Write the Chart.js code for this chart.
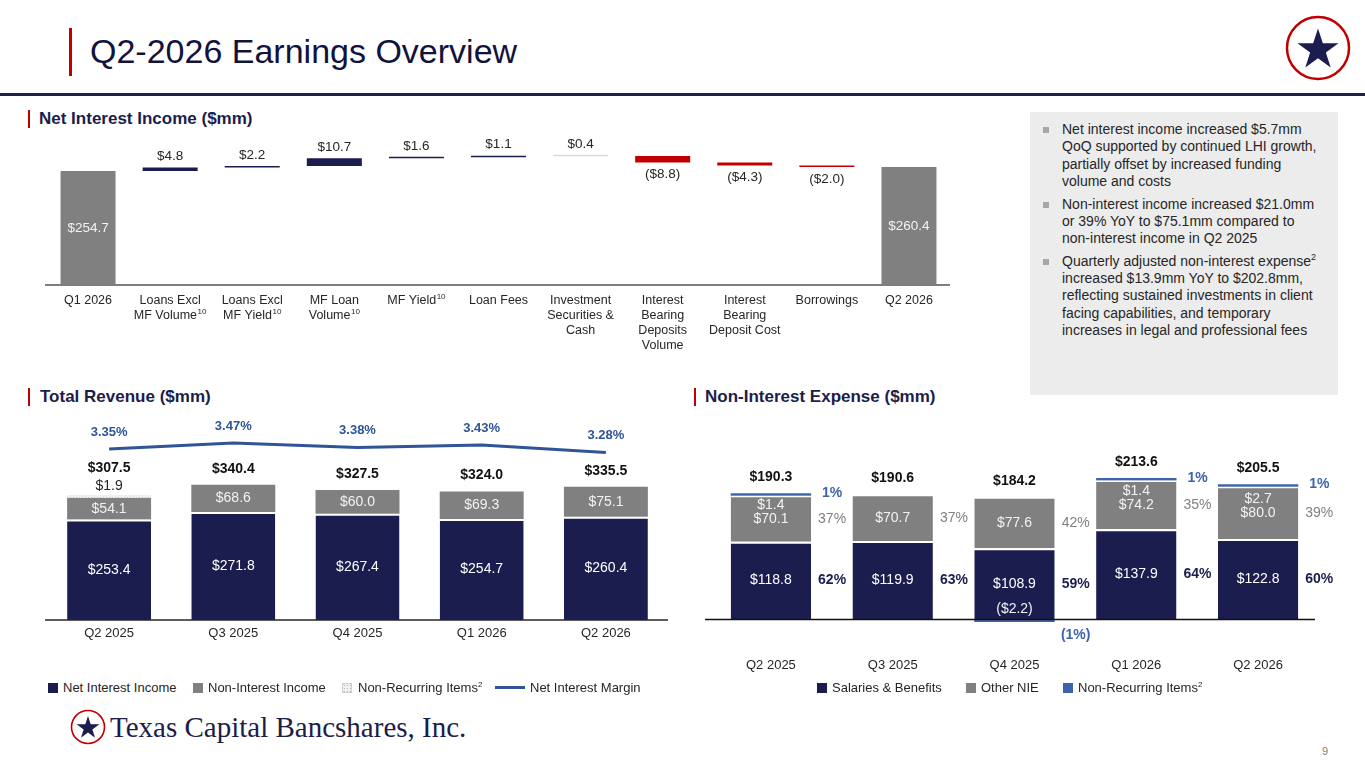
<!DOCTYPE html>
<html lang="en">
<head>
<meta charset="UTF-8">
<title>Q2-2026 Earnings Overview</title>
<script src="https://cdn.jsdelivr.net/npm/chart.js"></script>
<style>
    body { margin: 0; width: 1365px; height: 768px; position: relative; overflow: hidden; background: #fff;
           font-family: "Liberation Sans", Arial, sans-serif; color: #262626; }
    .abs { position: absolute; }
    #titlebar { left: 69px; top: 28px; width: 3px; height: 48px; background: #c00000; }
    #title { left: 90px; top: 29px; font-size: 34px; line-height: 44px; color: #12123d; white-space: nowrap; }
    #rule { left: 0; top: 93px; width: 1365px; height: 3px; background: #1f2050; }
    .sec { font-weight: bold; font-size: 17px; line-height: 20px; color: #1c1d4a; white-space: nowrap; }
    .secbar { width: 2px; height: 18px; background: #c00000; }
    #box { left: 1030px; top: 112px; width: 308px; height: 283px; background: #ececec; box-sizing: border-box; padding: 9px 0 0 32px; }
    #box p { margin: 0 0 5.4px 0; font-size: 14px; line-height: 17.3px; color: #262626; position: relative; white-space: nowrap; }
    #box p i { position: absolute; left: -19px; top: 6px; width: 6px; height: 6px; background: #a6a6a6; }
    #box sup { font-size: 9px; line-height: 0; }
    canvas { position: absolute; }
    .leg { font-size: 13px; line-height: 16px; color: #262626; white-space: nowrap; }
    .leg sup { font-size: 8px; line-height: 0; }
    .sw { position: absolute; width: 10px; height: 10px; }
    #footer { left: 110px; top: 709px; font-family: "Liberation Serif", "DejaVu Serif", serif; font-size: 29px; line-height: 36px;
              color: #1c1d4a; white-space: nowrap; }
    #pagenum { left: 1322px; top: 745px; font-size: 11px; color: #7f7f7f; }
</style>
</head>
<body>
<div id="titlebar" class="abs"></div>
<div id="title" class="abs">Q2-2026 Earnings Overview</div>
<div id="rule" class="abs"></div>
<svg class="abs" style="left:1283px;top:13px" width="70" height="70" viewBox="-35 -35 70 70">
    <circle cx="0" cy="0" r="31" fill="#fff" stroke="#c00000" stroke-width="2.5"/>
    <polygon transform="translate(0,2) scale(1.08)" fill="#1c1d4f"
             points="0,-20 4.49,-6.18 19.02,-6.18 7.27,2.36 11.76,16.18 0,7.64 -11.76,16.18 -7.27,2.36 -19.02,-6.18 -4.49,-6.18"/>
</svg>

<div class="abs secbar" style="left:28px;top:110px"></div>
<div class="abs sec" style="left:39px;top:109px">Net Interest Income ($mm)</div>
<div class="abs secbar" style="left:28px;top:388px"></div>
<div class="abs sec" style="left:40px;top:387px">Total Revenue ($mm)</div>
<div class="abs secbar" style="left:694px;top:388px"></div>
<div class="abs sec" style="left:705px;top:387px">Non-Interest Expense ($mm)</div>

<div id="box" class="abs">
    <p><i></i>Net interest income increased $5.7mm<br>QoQ supported by continued LHI growth,<br>partially offset by increased funding<br>volume and costs</p>
    <p><i></i>Non-interest income increased $21.0mm<br>or 39% YoY to $75.1mm compared to<br>non-interest income in Q2 2025</p>
    <p><i></i>Quarterly adjusted non-interest expense<sup>2</sup><br>increased $13.9mm YoY to $202.8mm,<br>reflecting sustained investments in client<br>facing capabilities, and temporary<br>increases in legal and professional fees</p>
</div>

<canvas id="wf" width="915" height="260" style="left:40px;top:100px"></canvas>
<canvas id="rev" width="635" height="250" style="left:40px;top:410px"></canvas>
<canvas id="nie" width="650" height="256" style="left:700px;top:430px"></canvas>

<!-- legends -->
<div class="abs leg" style="left:48px;top:680px"><span class="sw" style="left:0;top:3px;background:#1c1d4f"></span><span style="margin-left:15px">Net Interest Income</span></div>
<div class="abs leg" style="left:193px;top:680px"><span class="sw" style="left:0;top:3px;background:#808080"></span><span style="margin-left:15px">Non-Interest Income</span></div>
<div class="abs leg" style="left:342px;top:680px"><span class="sw" style="left:0;top:3px;box-sizing:border-box;border:1px dashed #c8c8c8;background:#f0f0f0 radial-gradient(#bdbdbd 0.7px, transparent 0.9px) 0 0/3px 3px"></span><span style="margin-left:16px">Non-Recurring Items<sup>2</sup></span></div>
<div class="abs leg" style="left:495px;top:680px"><span class="sw" style="left:0;top:6px;width:30px;height:3px;background:#2f5597"></span><span style="margin-left:35px">Net Interest Margin</span></div>

<div class="abs leg" style="left:817px;top:680px"><span class="sw" style="left:0;top:3px;background:#1c1d4f"></span><span style="margin-left:15px">Salaries &amp; Benefits</span></div>
<div class="abs leg" style="left:966px;top:680px"><span class="sw" style="left:0;top:3px;background:#808080"></span><span style="margin-left:15px">Other NIE</span></div>
<div class="abs leg" style="left:1063px;top:680px"><span class="sw" style="left:0;top:3px;background:#3b64ad"></span><span style="margin-left:15px">Non-Recurring Items<sup>2</sup></span></div>

<svg class="abs" style="left:69px;top:708px" width="38" height="38" viewBox="-19 -19 38 38">
    <circle cx="0" cy="0" r="16.5" fill="#fff" stroke="#c00000" stroke-width="1.6"/>
    <polygon transform="translate(0,1) scale(0.6)" fill="#1c1d4f"
             points="0,-20 4.49,-6.18 19.02,-6.18 7.27,2.36 11.76,16.18 0,7.64 -11.76,16.18 -7.27,2.36 -19.02,-6.18 -4.49,-6.18"/>
</svg>
<div id="footer" class="abs">Texas Capital Bancshares, Inc.</div>
<div id="pagenum" class="abs">9</div>

<script>
// ---- data ----
const wfCats = [['Q1 2026'], ['Loans Excl', 'MF Volume¹⁰'], ['Loans Excl', 'MF Yield¹⁰'], ['MF Loan', 'Volume¹⁰'],
    ['MF Yield¹⁰'], ['Loan Fees'], ['Investment', 'Securities &', 'Cash'], ['Interest', 'Bearing', 'Deposits', 'Volume'],
    ['Interest', 'Bearing', 'Deposit Cost'], ['Borrowings'], ['Q2 2026']];
const wfValues = [254.7, 4.8, 2.2, 10.7, 1.6, 1.1, 0.4, -8.8, -4.3, -2.0, 260.4];

const quarters = ['Q2 2025', 'Q3 2025', 'Q4 2025', 'Q1 2026', 'Q2 2026'];
const revNII = [253.4, 271.8, 267.4, 254.7, 260.4];
const revNonII = [54.1, 68.6, 60.0, 69.3, 75.1];
const revNonRec = [1.9, null, null, null, null];
const revTotal = [307.5, 340.4, 327.5, 324.0, 335.5];
const nim = [3.35, 3.47, 3.38, 3.43, 3.28];

const nieSalaries = [118.8, 119.9, 108.9, 137.9, 122.8];
const nieOther = [70.1, 70.7, 77.6, 74.2, 80.0];
const nieNonRec = [1.4, null, -2.2, 1.4, 2.7];
const nieTotal = [190.3, 190.6, 184.2, 213.6, 205.5];
const salPct = [62, 63, 59, 64, 60];
const otherPct = [37, 37, 42, 35, 39];
const nonRecPct = [1, null, -1, 1, 1];

// ---- styles ----
const FONT = '"Liberation Sans", Arial, sans-serif';
const NAVY = '#1c1d4f', GRAY = '#808080', RED = '#c00000', NIM_BLUE = '#2f5597', NR_BLUE = '#3b64ad';
const wfColors = [GRAY, NAVY, NAVY, NAVY, NAVY, NAVY, '#d9d9d9', RED, RED, RED, GRAY];
Chart.defaults.font.family = FONT;
Chart.defaults.color = '#262626';

function money(v) { return v < 0 ? '($' + Math.abs(v).toFixed(1) + ')' : '$' + v.toFixed(1); }
function pct(v) { return v < 0 ? '(' + Math.abs(v) + '%)' : v + '%'; }
function drawText(ctx, str, x, y, font, color) {
    ctx.save();
    ctx.font = font + ' ' + FONT;
    ctx.fillStyle = color;
    ctx.textAlign = 'center';
    ctx.textBaseline = 'middle';
    ctx.fillText(str, x, y);
    ctx.restore();
}
function hiddenY(min, max, extra) {
    return Object.assign({ display: false, min: min, max: max }, extra || {});
}
// tick line with a trailing footnote mark (¹⁰) drawn as small raised digits
function drawTickLine(ctx, line, x, y) {
    let main = line, sup = '';
    const m = line.match(/[¹⁰]+$/);
    if (m) { main = line.slice(0, m.index); sup = m[0].replace(/¹/g, '1').replace(/⁰/g, '0'); }
    ctx.save();
    ctx.fillStyle = '#262626';
    ctx.textBaseline = 'middle';
    ctx.textAlign = 'left';
    ctx.font = '12.5px ' + FONT;
    const w1 = ctx.measureText(main).width;
    ctx.font = '8px ' + FONT;
    const w2 = sup ? ctx.measureText(sup).width + 0.5 : 0;
    const x0 = x - (w1 + w2) / 2;
    ctx.font = '12.5px ' + FONT;
    ctx.fillText(main, x0, y);
    if (sup) { ctx.font = '8px ' + FONT; ctx.fillText(sup, x0 + w1 + 0.5, y - 4); }
    ctx.restore();
}

// ---- waterfall ----
const WF_MIN = 96.4, WF_MAX = 311.7;
let run = 0;
const wfFloat = wfValues.map((v, i) => {
    if (i === 0 || i === wfValues.length - 1) { run = v; return [WF_MIN, v]; }
    const s = run; run += v; return [s, run];
});

const wfLabels = {
    id: 'wfLabels',
    afterDatasetsDraw(chart) {
        const ctx = chart.ctx, meta = chart.getDatasetMeta(0), a = chart.chartArea, xs = chart.scales.x;
        ctx.save(); ctx.strokeStyle = '#7f7f7f'; ctx.lineWidth = 2;
        ctx.beginPath(); ctx.moveTo(a.left - 2, a.bottom); ctx.lineTo(a.right, a.bottom); ctx.stroke(); ctx.restore();
        wfValues.forEach((v, i) => {
            const b = meta.data[i];
            const top = Math.min(b.y, b.base), bot = Math.max(b.y, b.base);
            if (i === 0 || i === wfValues.length - 1) drawText(ctx, money(v), b.x, (top + bot) / 2, '13.5px', '#f2f2f2');
            else if (v < 0) drawText(ctx, money(v), b.x, bot + 12, '13.5px', '#262626');
            else drawText(ctx, money(v), b.x, top - 11, '13.5px', '#262626');
        });
        wfCats.forEach((lines, i) => {
            const cx = xs.getPixelForValue(i);
            lines.forEach((ln, k) => drawTickLine(ctx, ln, cx, a.bottom + 16 + k * 15));
        });
    }
};

new Chart(document.getElementById('wf'), {
    type: 'bar',
    data: { labels: wfCats, datasets: [{ data: wfFloat, backgroundColor: wfColors, borderWidth: 0,
        barPercentage: 0.67, categoryPercentage: 1, minBarLength: 1.5 }] },
    options: {
        responsive: false, animation: false,
        layout: { padding: { top: 30, left: 7, right: 5, bottom: 0 } },
        plugins: { legend: { display: false }, tooltip: { enabled: false } },
        scales: {
            x: { grid: { display: false, drawTicks: false }, border: { display: false },
                 ticks: { display: false },
                 afterFit(s) { s.height = 75; } },
            y: hiddenY(WF_MIN, WF_MAX)
        }
    },
    plugins: [wfLabels]
});

// ---- total revenue ----
function makePattern() {
    const c = document.createElement('canvas'); c.width = 3; c.height = 3;
    const g = c.getContext('2d');
    g.fillStyle = '#efefef'; g.fillRect(0, 0, 3, 3);
    g.fillStyle = '#c4c4c4'; g.fillRect(0, 0, 1, 1);
    return g.createPattern(c, 'repeat');
}

const revLabels = {
    id: 'revLabels',
    afterDatasetsDraw(chart) {
        const ctx = chart.ctx, a = chart.chartArea;
        ctx.save(); ctx.strokeStyle = '#262626'; ctx.lineWidth = 1.5;
        ctx.beginPath(); ctx.moveTo(a.left - 2, a.bottom); ctx.lineTo(a.right, a.bottom); ctx.stroke(); ctx.restore();
        const mLine = chart.getDatasetMeta(0), mNii = chart.getDatasetMeta(1), mNon = chart.getDatasetMeta(2), mRec = chart.getDatasetMeta(3);
        quarters.forEach((q, i) => {
            const n = mNii.data[i], o = mNon.data[i];
            drawText(ctx, money(revNII[i]), n.x, (n.y + n.base) / 2, '14px', '#fff');
            drawText(ctx, money(revNonII[i]), o.x, (o.y + o.base) / 2, '14px', '#f2f2f2');
            let top = o.y;
            if (revNonRec[i] != null) {
                top = mRec.data[i].y;
                drawText(ctx, money(revNonRec[i]), o.x, top - 9, '14px', '#262626');
                top -= 11;
            }
            drawText(ctx, money(revTotal[i]), o.x, top - 16, 'bold 14px', '#111');
            const p = mLine.data[i];
            drawText(ctx, nim[i].toFixed(2) + '%', p.x, p.y - 17, 'bold 13px', NIM_BLUE);
        });
    }
};

new Chart(document.getElementById('rev'), {
    type: 'bar',
    data: {
        labels: quarters,
        datasets: [
            { type: 'line', data: nim, yAxisID: 'y1', borderColor: NIM_BLUE, borderWidth: 3, pointRadius: 0, order: 0 },
            { data: revNII, backgroundColor: NAVY, borderColor: '#fff', borderWidth: { top: 2 }, borderSkipped: 'start', order: 1 },
            { data: revNonII, backgroundColor: GRAY, borderWidth: 0, order: 1 },
            { data: revNonRec, backgroundColor: makePattern(), borderWidth: 0, minBarLength: 3, order: 1 }
        ]
    },
    options: {
        responsive: false, animation: false,
        datasets: { bar: { barPercentage: 0.676, categoryPercentage: 1 } },
        layout: { padding: { top: 10, left: 7, right: 7, bottom: 0 } },
        plugins: { legend: { display: false }, tooltip: { enabled: false } },
        scales: {
            x: { stacked: true, grid: { display: false, drawTicks: false }, border: { display: false },
                 ticks: { padding: 6, color: '#262626', font: { size: 13 } },
                 afterFit(s) { s.height = 40; } },
            y: hiddenY(0, 503.8, { stacked: true }),
            y1: hiddenY(-0.07, 3.93)
        }
    },
    plugins: [revLabels]
});

// ---- non-interest expense ----
const nieLabels = {
    id: 'nieLabels',
    afterDatasetsDraw(chart) {
        const ctx = chart.ctx, a = chart.chartArea, y = chart.scales.y;
        const y0 = y.getPixelForValue(0);
        ctx.save(); ctx.strokeStyle = '#111'; ctx.lineWidth = 1.5;
        ctx.beginPath(); ctx.moveTo(a.left - 5, y0); ctx.lineTo(a.right - 4, y0); ctx.stroke(); ctx.restore();
        const mSal = chart.getDatasetMeta(0), mOth = chart.getDatasetMeta(1), mRec = chart.getDatasetMeta(2);
        quarters.forEach((q, i) => {
            const s = mSal.data[i], o = mOth.data[i];
            const px = s.x + s.width / 2 + 21;
            const sc = (s.y + s.base) / 2, oc = (o.y + o.base) / 2;
            drawText(ctx, money(nieSalaries[i]), s.x, sc, '14px', '#fff');
            drawText(ctx, pct(salPct[i]), px, sc, 'bold 14px', NAVY);
            drawText(ctx, pct(otherPct[i]), px, oc, '14px', '#808080');
            let top = o.y;
            const nr = nieNonRec[i];
            if (nr != null && nr > 0) {
                const r = mRec.data[i];
                top = r.y;
                drawText(ctx, money(nr), o.x, oc - 14, '14px', '#f2f2f2');
                drawText(ctx, pct(nonRecPct[i]), px, r.y, 'bold 14px', NR_BLUE);
            } else if (nr != null) {
                drawText(ctx, money(nr), s.x, s.base - 10, '14px', '#f2f2f2');
                drawText(ctx, pct(nonRecPct[i]), px, y0 + 16, 'bold 14px', NR_BLUE);
            }
            drawText(ctx, money(nieOther[i]), o.x, oc, '14px', '#f2f2f2');
            drawText(ctx, money(nieTotal[i]), s.x, top - 16, 'bold 14px', '#111');
        });
    }
};

new Chart(document.getElementById('nie'), {
    type: 'bar',
    data: {
        labels: quarters,
        datasets: [
            { data: nieSalaries, backgroundColor: NAVY, borderColor: '#fff', borderWidth: { top: 2 }, borderSkipped: 'start' },
            { data: nieOther, backgroundColor: GRAY, borderColor: '#fff', borderWidth: { top: 1.5 }, borderSkipped: 'start' },
            { data: nieNonRec, backgroundColor: NR_BLUE, borderWidth: 0, minBarLength: 2.5 }
        ]
    },
    options: {
        responsive: false, animation: false,
        datasets: { bar: { barPercentage: 0.66, categoryPercentage: 1 } },
        layout: { padding: { top: 10, left: 10, right: 31, bottom: 0 } },
        plugins: { legend: { display: false }, tooltip: { enabled: false } },
        scales: {
            x: { stacked: true, grid: { display: false, drawTicks: false }, border: { display: false },
                 ticks: { padding: 32, color: '#262626', font: { size: 13 } },
                 afterFit(s) { s.height = 60; } },
            y: hiddenY(-9.9, 274, { stacked: true })
        }
    },
    plugins: [nieLabels]
});
</script>
</body>
</html>
